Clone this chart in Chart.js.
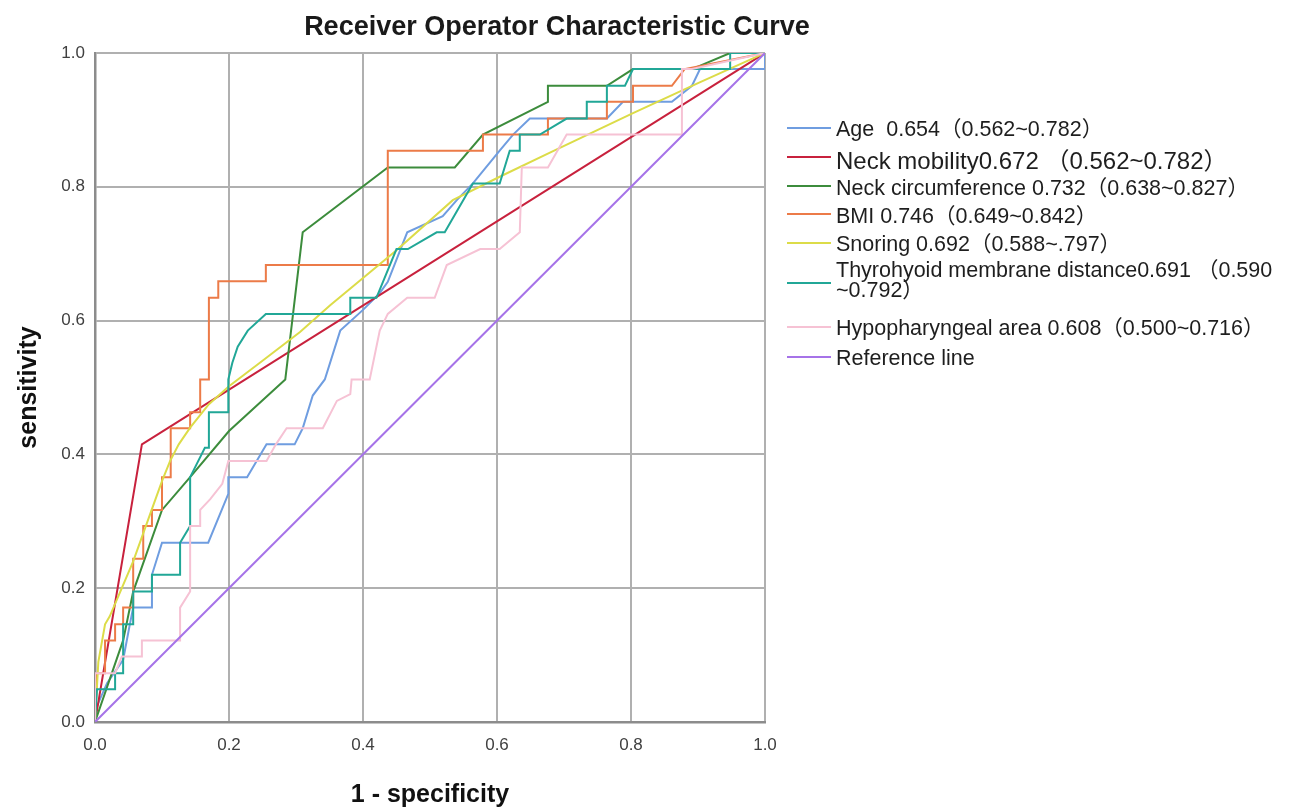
<!DOCTYPE html>
<html>
<head>
<meta charset="utf-8">
<script src="https://cdn.jsdelivr.net/npm/chart.js@4.4.1/dist/chart.umd.min.js"></script>
<style>
  body { margin: 0; background: #fff; }
  #wrap { position: relative; width: 1301px; height: 812px; background: #fff; }
  #title {
    position: absolute; left: 0; top: 10px; width: 1114px; text-align: center;
    font: bold 27px "Liberation Sans", Arial, sans-serif; color: #1a1a1a; line-height: 32px;
  }
  .row { position: absolute; left: 787px; font: 21.5px "Liberation Sans", Arial, "Noto Sans CJK SC", sans-serif; color: #1e1e1e; white-space: pre; }
  .swatch { position: absolute; left: 0; width: 44px; height: 0; border-top: 2px solid; }
  .txt { position: absolute; left: 49px; line-height: 20px; }
</style>
</head>
<body>
<div id="wrap">
  <canvas id="roc" width="1301" height="812"></canvas>
  <div id="title">Receiver Operator Characteristic Curve</div>
  <div id="legend"></div>
</div>
<script>
// --- data: [1 - specificity, sensitivity] pairs ---
const age = [[0,0],[0.003,0.024],[0.018,0.058],[0.042,0.093],[0.052,0.146],[0.057,0.171],[0.085,0.171],[0.085,0.22],
  [0.1,0.268],[0.169,0.268],[0.199,0.341],[0.199,0.366],[0.227,0.366],[0.256,0.415],[0.298,0.415],[0.31,0.439],
  [0.325,0.488],[0.343,0.512],[0.366,0.585],[0.4,0.616],[0.425,0.641],[0.437,0.658],[0.466,0.732],[0.519,0.756],
  [0.54,0.78],[0.564,0.805],[0.604,0.854],[0.624,0.878],[0.649,0.902],[0.764,0.902],[0.788,0.927],[0.861,0.927],
  [0.891,0.951],[0.903,0.976],[1,0.976],[1,1]];
const neckMobility = [[0,0],[0.07,0.415],[1,1]];
const neckCirc = [[0,0],[0.042,0.122],[0.057,0.195],[0.1,0.317],[0.142,0.366],[0.2,0.435],[0.284,0.512],[0.31,0.732],
  [0.437,0.829],[0.537,0.829],[0.579,0.878],[0.676,0.927],[0.676,0.951],[0.764,0.951],[0.803,0.976],[0.891,0.976],
  [0.948,1],[1,1]];
const bmi = [[0,0],[0.003,0.073],[0.015,0.073],[0.015,0.122],[0.03,0.122],[0.03,0.146],[0.042,0.146],[0.042,0.171],
  [0.057,0.171],[0.057,0.244],[0.072,0.244],[0.072,0.293],[0.085,0.293],[0.085,0.317],[0.1,0.317],[0.1,0.366],
  [0.113,0.366],[0.113,0.439],[0.142,0.439],[0.142,0.463],[0.157,0.463],[0.157,0.512],[0.17,0.512],[0.17,0.634],
  [0.184,0.634],[0.184,0.659],[0.255,0.659],[0.255,0.683],[0.437,0.683],[0.437,0.854],[0.579,0.854],[0.579,0.878],
  [0.676,0.878],[0.676,0.902],[0.764,0.902],[0.764,0.927],[0.803,0.927],[0.803,0.951],[0.861,0.951],[0.88,0.976],[1,1]];
const snoring = [[0,0],[0.005,0.09],[0.015,0.146],[0.022,0.158],[0.04,0.2],[0.057,0.24],[0.082,0.31],[0.1,0.36],
  [0.112,0.39],[0.125,0.415],[0.142,0.44],[0.17,0.475],[0.2,0.502],[0.25,0.54],[0.306,0.583],[0.351,0.623],
  [0.45,0.705],[0.534,0.78],[0.604,0.815],[0.679,0.851],[0.803,0.91],[0.9,0.955],[1,1]];
const thyrohyoid = [[0,0],[0.003,0.049],[0.03,0.049],[0.03,0.073],[0.042,0.073],[0.042,0.146],[0.057,0.146],
  [0.057,0.195],[0.085,0.195],[0.085,0.22],[0.127,0.22],[0.127,0.268],[0.142,0.293],[0.142,0.366],[0.164,0.41],
  [0.17,0.41],[0.17,0.463],[0.199,0.463],[0.199,0.512],[0.205,0.537],[0.213,0.561],[0.228,0.585],[0.255,0.61],
  [0.381,0.61],[0.381,0.634],[0.42,0.634],[0.45,0.707],[0.467,0.707],[0.51,0.732],[0.522,0.732],[0.564,0.805],
  [0.604,0.805],[0.619,0.854],[0.634,0.854],[0.634,0.878],[0.664,0.878],[0.704,0.902],[0.734,0.902],[0.734,0.927],
  [0.764,0.927],[0.764,0.951],[0.791,0.951],[0.803,0.976],[0.948,0.976],[0.948,1],[1,1]];
const hypopharyngeal = [[0,0],[0,0.073],[0.03,0.073],[0.04,0.098],[0.07,0.098],[0.07,0.122],[0.127,0.122],
  [0.127,0.171],[0.142,0.195],[0.142,0.293],[0.157,0.293],[0.157,0.317],[0.172,0.333],[0.19,0.356],[0.199,0.39],
  [0.256,0.39],[0.27,0.415],[0.286,0.439],[0.34,0.439],[0.361,0.48],[0.381,0.49],[0.383,0.512],[0.41,0.512],
  [0.425,0.585],[0.437,0.61],[0.466,0.634],[0.507,0.634],[0.525,0.683],[0.575,0.707],[0.604,0.707],[0.634,0.732],
  [0.637,0.829],[0.676,0.829],[0.704,0.878],[0.876,0.878],[0.876,0.976],[0.891,0.976],[1,1]];
const reference = [[0,0],[1,1]];

const labels = [
  "Age  0.654（0.562~0.782）",
  "Neck mobility0.672 （0.562~0.782）",
  "Neck circumference 0.732（0.638~0.827）",
  "BMI 0.746（0.649~0.842）",
  "Snoring 0.692（0.588~.797）",
  "Thyrohyoid membrane distance0.691 （0.590\n~0.792）",
  "Hypopharyngeal area 0.608（0.500~0.716）",
  "Reference line"
];
const colors = ["#6f9de0", "#c8213d", "#3c8c3c", "#ec7b48", "#dcdc48", "#21a797", "#f6c2d4", "#a673e8"];
const series = [age, neckMobility, neckCirc, bmi, snoring, thyrohyoid, hypopharyngeal, reference];
const axisTicks = [0, 0.2, 0.4, 0.6, 0.8, 1.0];

// legend rows (y of swatch, y of first text line)
const rowSwatch = [128, 157, 186, 214, 243, 283, 327, 357];
const rowText = [129, 161, 188, 216, 244, 270, 328, 358];

const legend = document.getElementById("legend");
labels.forEach((lab, i) => {
  const row = document.createElement("div");
  row.className = "row";
  row.style.top = "0px";
  if (i === 1) row.style.fontSize = "24px";
  const sw = document.createElement("div");
  sw.className = "swatch";
  sw.style.borderColor = colors[i];
  sw.style.top = (rowSwatch[i] - 1) + "px";
  const tx = document.createElement("div");
  tx.className = "txt";
  tx.style.top = (rowText[i] - 10) + "px";
  tx.textContent = lab;
  row.appendChild(sw);
  row.appendChild(tx);
  legend.appendChild(row);
});

const datasets = series.map((s, i) => ({
  label: labels[i],
  data: s.map(p => ({ x: p[0], y: p[1] })),
  borderColor: colors[i],
  borderWidth: 2,
  pointRadius: 0,
  tension: 0,
  fill: false,
  order: series.length - i
}));

const tickFont = { family: "Liberation Sans, Arial, sans-serif", size: 17 };
const axisTitleFont = { family: "Liberation Sans, Arial, sans-serif", size: 25, weight: "bold" };

new Chart(document.getElementById("roc"), {
  type: "line",
  data: { datasets },
  options: {
    responsive: false,
    animation: false,
    devicePixelRatio: 1,
    layout: { padding: { top: 53, right: 536, left: 0, bottom: 0 } },
    plugins: { legend: { display: false }, tooltip: { enabled: false } },
    scales: {
      x: {
        type: "linear", min: 0, max: 1,
        afterFit: s => { s.height = 90; },
        afterBuildTicks: s => { s.ticks = axisTicks.map(v => ({ value: v })); },
        ticks: { callback: v => v.toFixed(1), font: tickFont, color: "#404040", padding: 13, maxRotation: 0 },
        grid: { color: "#b0b0b0", lineWidth: 2, drawTicks: false },
        border: { color: "#8c8c8c", width: 2.5 },
        title: { display: true, text: "1 - specificity", font: axisTitleFont, color: "#111", padding: { bottom: 2 } }
      },
      y: {
        type: "linear", min: 0, max: 1,
        afterFit: s => { s.width = 95; },
        afterBuildTicks: s => { s.ticks = axisTicks.map(v => ({ value: v })); },
        ticks: { callback: v => v.toFixed(1), font: tickFont, color: "#404040", padding: 10 },
        grid: { color: "#b0b0b0", lineWidth: 2, drawTicks: false },
        border: { color: "#8c8c8c", width: 2.5 },
        title: { display: true, text: "sensitivity", font: axisTitleFont, color: "#111", padding: { top: 14 } }
      }
    }
  }
});
</script>
</body>
</html>
